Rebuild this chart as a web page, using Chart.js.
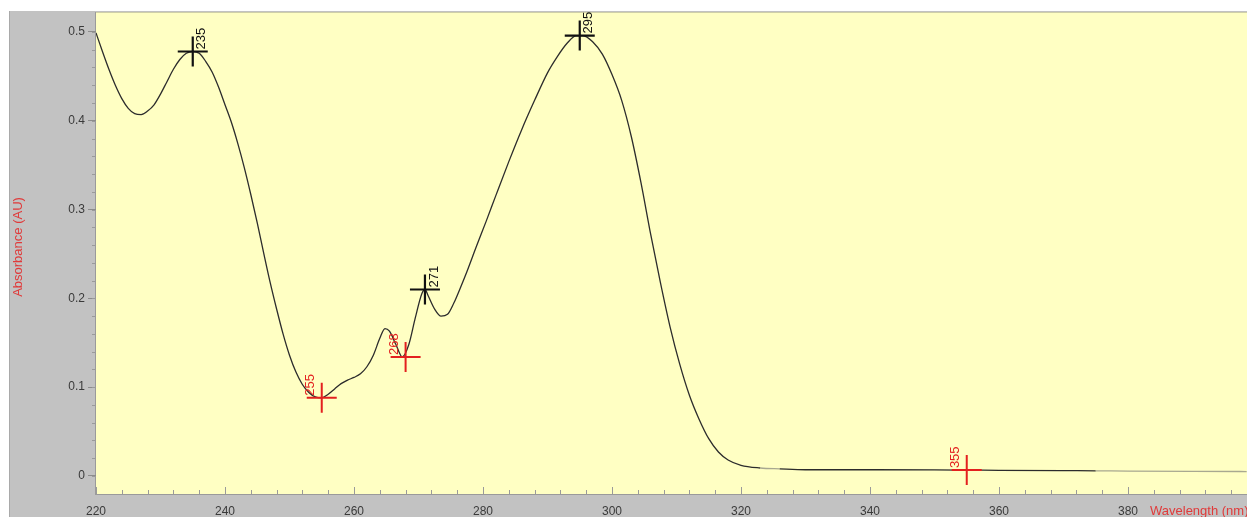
<!DOCTYPE html>
<html>
<head>
<meta charset="utf-8">
<title>UV Spectrum</title>
<script src="https://cdn.jsdelivr.net/npm/chart.js@4/dist/chart.umd.min.js"></script>
<style>
  html, body { margin: 0; padding: 0; background: #ffffff; overflow: hidden; }
  canvas { display: block; }
</style>
</head>
<body>
<canvas id="spectrum" width="1247" height="517"></canvas>
<script>
// Spectrum samples: wavelength (nm) and absorbance (AU)
const wavelengths = [
  220, 221, 222, 223, 224, 225, 226, 227, 228, 229,
  230, 231, 232, 233, 234, 235, 236, 237, 238, 239,
  240, 241, 242, 243, 244, 245, 246, 247, 248, 249,
  250, 251, 252, 253, 254, 255, 256, 257, 258, 259,
  260, 261, 262, 263, 264, 264.8, 265.5, 266.5, 267.5, 268.5,
  269.5, 270.5, 271, 271.5, 272.5, 273.5, 274.5, 275.5, 276.5, 277.5,
  279, 280.5, 282, 284, 286, 288, 290, 291.5, 293, 294.5,
  295.5, 297, 298.5, 300, 301.5, 303, 304.5, 306, 307.5, 309,
  310.5, 312, 313.5, 315, 316.5, 318, 320, 323, 326, 330,
  340, 350, 355, 360, 370, 375, 380, 390, 398.4
];
const absorbance = [
  0.499, 0.478, 0.458, 0.440, 0.425, 0.414, 0.408, 0.407, 0.411, 0.418,
  0.430, 0.444, 0.458, 0.469, 0.476, 0.478, 0.476, 0.467, 0.455, 0.438,
  0.418, 0.398, 0.374, 0.347, 0.317, 0.285, 0.251, 0.218, 0.188, 0.160,
  0.136, 0.117, 0.103, 0.094, 0.089, 0.088, 0.092, 0.098, 0.104, 0.108,
  0.111, 0.115, 0.123, 0.136, 0.155, 0.166, 0.163, 0.148, 0.134, 0.148,
  0.178, 0.205, 0.210, 0.203, 0.188, 0.180, 0.182, 0.195, 0.212, 0.230,
  0.259, 0.287, 0.316, 0.354, 0.390, 0.423, 0.454, 0.472, 0.487, 0.496,
  0.496, 0.489, 0.475, 0.452, 0.423, 0.382, 0.330, 0.272, 0.218, 0.168,
  0.126, 0.091, 0.064, 0.042, 0.027, 0.018, 0.012, 0.009, 0.008, 0.007,
  0.007, 0.0068, 0.0066, 0.0064, 0.006, 0.0058, 0.0055, 0.0052, 0.005
];

// Peak picks (maxima) and valley picks (minima)
const maxWavelengths = [235, 271, 295];
const maxValues = [0.478, 0.210, 0.496];
const minWavelengths = [255, 268, 355];
const minValues = [0.088, 0.134, 0.0066];

// Axis ticks
const xTickValues = [220, 240, 260, 280, 300, 320, 340, 360, 380];
const yTickValues = [0, 0.1, 0.2, 0.3, 0.4, 0.5];

const X_MIN = 220, X_MAX = 398.45;
const Y_MIN = -0.0203, Y_MAX = 0.5225;

const PANEL_GRAY = '#c2c2c2';
const PLOT_YELLOW = '#ffffc3';
const TITLE_RED = '#e03a3a';
const PICK_RED = '#e3201f';
const TICK_TEXT = '#3a3a3a';
const FONT = '"Liberation Sans", Arial, sans-serif';

// Backgrounds: white margin, grey panel, yellow plotting area
const backdrop = {
  id: 'backdrop',
  beforeDraw(chart) {
    const { ctx, chartArea: a, width, height } = chart;
    ctx.save();
    ctx.fillStyle = '#ffffff';
    ctx.fillRect(0, 0, width, height);
    ctx.fillStyle = PANEL_GRAY;
    ctx.fillRect(9, 11, width - 9, height - 11);
    ctx.fillStyle = '#a9a9a9';
    ctx.fillRect(9, 11, 1, height - 11);
    ctx.fillStyle = PLOT_YELLOW;
    ctx.fillRect(a.left, a.top, a.right - a.left, a.bottom - a.top);
    // frame edges
    ctx.fillStyle = '#cfcfa8';
    ctx.fillRect(a.left, a.top, a.right - a.left, 1);
    ctx.fillStyle = '#9a9a9a';
    ctx.fillRect(a.left - 1, a.top, 1, a.bottom - a.top + 1);
    ctx.fillRect(a.left, a.bottom, a.right - a.left, 1);
    ctx.restore();
  }
};

// Minor tick marks along both axes
const minorTicks = {
  id: 'minorTicks',
  beforeDatasetsDraw(chart) {
    const { ctx, chartArea: a, scales } = chart;
    ctx.save();
    ctx.strokeStyle = '#9a9a9a';
    ctx.lineWidth = 1;
    ctx.beginPath();
    for (let v = 0; v <= 0.52; v += 0.02) {
      const y = Math.round(scales.y.getPixelForValue(v)) + 0.5;
      ctx.moveTo(a.left - 4, y);
      ctx.lineTo(a.left, y);
    }
    for (let v = 220; v <= 398; v += 4) {
      const x = Math.round(scales.x.getPixelForValue(v)) + 0.5;
      const major = (v % 20) === 0;
      ctx.moveTo(x, a.bottom);
      ctx.lineTo(x, a.bottom - (major ? 7 : 4));
    }
    ctx.stroke();
    ctx.restore();
  }
};

// Vertical wavelength labels beside each pick
const pickLabels = {
  id: 'pickLabels',
  afterDatasetsDraw(chart) {
    const { ctx, chartArea: a } = chart;
    ctx.save();
    ctx.beginPath();
    ctx.rect(a.left, a.top, a.right - a.left, a.bottom - a.top);
    ctx.clip();
    ctx.font = '13px ' + FONT;
    ctx.textAlign = 'left';
    ctx.textBaseline = 'middle';
    chart.data.datasets.forEach((ds, i) => {
      if (!ds.pickLabels) return;
      const meta = chart.getDatasetMeta(i);
      meta.data.forEach((pt, j) => {
        ctx.save();
        ctx.translate(pt.x + ds.labelDx, pt.y - 2);
        ctx.rotate(-Math.PI / 2);
        ctx.fillStyle = ds.borderColor;
        ctx.fillText(ds.pickLabels[j], 0, 0);
        ctx.restore();
      });
    });
    ctx.restore();
  }
};

// Axis titles
const axisTitles = {
  id: 'axisTitles',
  afterDraw(chart) {
    const { ctx } = chart;
    ctx.save();
    ctx.fillStyle = TITLE_RED;
    ctx.font = '13px ' + FONT;
    ctx.textBaseline = 'middle';
    ctx.textAlign = 'left';
    ctx.fillText('Wavelength (nm)', 1150, 511);
    ctx.translate(18, 247);
    ctx.rotate(-Math.PI / 2);
    ctx.textAlign = 'center';
    ctx.fillText('Absorbance (AU)', 0, 0);
    ctx.restore();
  }
};

// Keep the plotting area at a fixed size regardless of label overhang
function fixBox(size, key) {
  return s => {
    s[key] = size;
    s.paddingLeft = 0;
    s.paddingRight = 0;
    s.paddingTop = 0;
    s.paddingBottom = 0;
  };
}

const spectrumPoints = wavelengths.map((x, i) => ({ x, y: absorbance[i] }));
const maxPoints = maxWavelengths.map((x, i) => ({ x, y: maxValues[i] }));
const minPoints = minWavelengths.map((x, i) => ({ x, y: minValues[i] }));

new Chart(document.getElementById('spectrum'), {
  type: 'line',
  data: {
    datasets: [
      {
        label: 'Maxima',
        type: 'scatter',
        data: maxPoints,
        pointStyle: 'cross',
        pointRadius: 15,
        pointBorderWidth: 2.2,
        borderColor: '#111111',
        backgroundColor: '#111111',
        pickLabels: maxWavelengths.map(String),
        labelDx: 9,
        order: 0
      },
      {
        label: 'Minima',
        type: 'scatter',
        data: minPoints,
        pointStyle: 'cross',
        pointRadius: 15,
        pointBorderWidth: 2,
        borderColor: PICK_RED,
        backgroundColor: PICK_RED,
        pickLabels: minWavelengths.map(String),
        labelDx: -11,
        order: 0
      },
      {
        label: 'Absorbance',
        data: spectrumPoints,
        borderColor: '#2c2c2c',
        borderWidth: 1.3,
        pointRadius: 0,
        cubicInterpolationMode: 'monotone',
        segment: {
          borderColor: ctx => {
            const x = ctx.p0.parsed.x;
            if (x >= 375 || (x >= 323 && x < 326)) return '#a8a890';
            return undefined;
          }
        },
        order: 1
      }
    ]
  },
  options: {
    responsive: false,
    animation: false,
    devicePixelRatio: 1,
    layout: { autoPadding: false, padding: { top: 12, left: 0, right: 0, bottom: 0 } },
    plugins: {
      legend: { display: false },
      tooltip: { enabled: false }
    },
    scales: {
      x: {
        type: 'linear',
        min: X_MIN,
        max: X_MAX,
        grid: { display: false, drawTicks: false },
        border: { display: false },
        ticks: {
          autoSkip: false,
          maxRotation: 0,
          padding: 10,
          color: TICK_TEXT,
          font: { family: FONT, size: 12 },
          callback: v => String(v)
        },
        afterBuildTicks: s => { s.ticks = xTickValues.map(v => ({ value: v })); },
        afterFit: fixBox(23, 'height')
      },
      y: {
        type: 'linear',
        min: Y_MIN,
        max: Y_MAX,
        grid: {
          drawOnChartArea: false,
          drawTicks: true,
          tickLength: 8,
          color: '#8c8c8c'
        },
        border: { display: false },
        ticks: {
          padding: 3,
          color: TICK_TEXT,
          font: { family: FONT, size: 12 },
          callback: v => (v === 0 ? '0' : v.toFixed(1))
        },
        afterBuildTicks: s => { s.ticks = yTickValues.map(v => ({ value: v })); },
        afterFit: fixBox(96, 'width')
      }
    }
  },
  plugins: [backdrop, minorTicks, pickLabels, axisTitles]
});
</script>
</body>
</html>
